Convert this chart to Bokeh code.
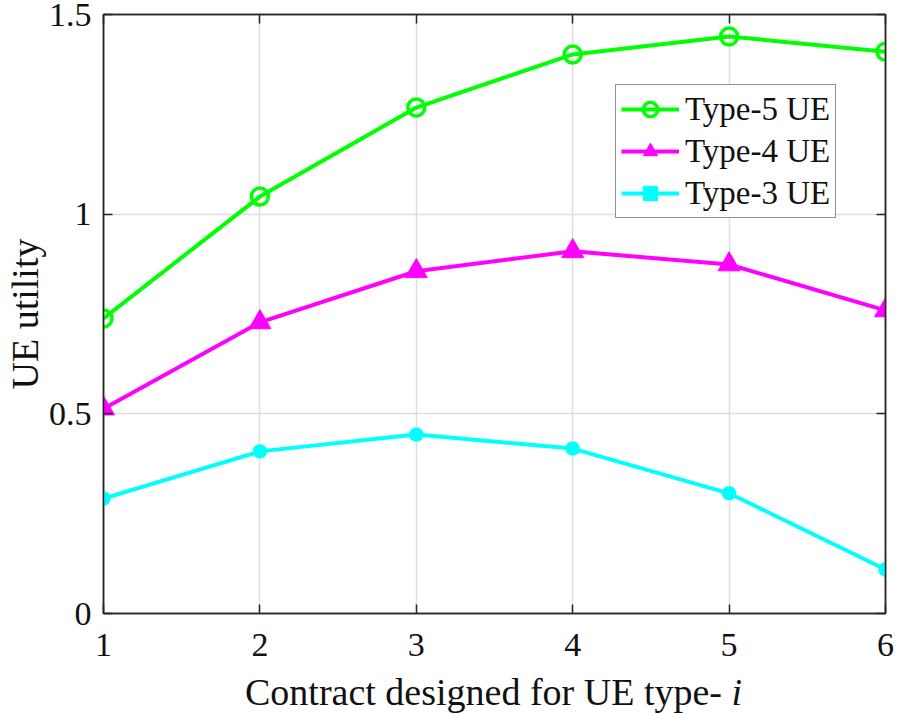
from bokeh.plotting import figure
from bokeh.models import (FixedTicker, NumeralTickFormatter, LinearAxis, Legend,
                          LegendItem, Range1d, Div)
from bokeh.layouts import column
from bokeh.embed import file_html
from bokeh.resources import INLINE

contracts = [1, 2, 3, 4, 5, 6]
type5 = [0.739, 1.044, 1.267, 1.400, 1.445, 1.407]
type4 = [0.513, 0.729, 0.857, 0.907, 0.874, 0.759]
type3 = [0.288, 0.406, 0.448, 0.413, 0.301, 0.110]
x_ticks = [1, 2, 3, 4, 5, 6]
y_ticks = [0, 0.5, 1, 1.5]
x_label = "Contract designed for UE type-"
x_label_var = "i"
y_label = "UE utility"

FONT = "Liberation Serif"
INK = "#262626"

p = figure(width=899, height=672, output_backend="svg", toolbar_location=None,
           x_range=Range1d(1, 6), y_range=Range1d(0, 1.5),
           min_border_left=101, min_border_right=14, min_border_top=14,
           min_border_bottom=59)
p.outline_line_color = INK
p.outline_line_width = 1.5
p.background_fill_color = "white"

for ax in (p.xaxis[0], p.yaxis[0]):
    ax.major_tick_in = 9
    ax.major_tick_out = 0
    ax.minor_tick_line_color = None
    ax.axis_line_color = INK
    ax.axis_line_width = 1.5
    ax.major_tick_line_color = INK
    ax.major_tick_line_width = 1.5
    ax.major_label_text_font = FONT
    ax.major_label_text_font_size = "34px"
    ax.major_label_text_color = "#111111"

p.xaxis.ticker = FixedTicker(ticks=x_ticks)
p.yaxis.ticker = FixedTicker(ticks=y_ticks)
p.yaxis.formatter = NumeralTickFormatter(format="0.[0]")
p.xaxis.major_label_standoff = 20
p.yaxis.major_label_standoff = 12

p.yaxis.axis_label = y_label
p.yaxis.axis_label_text_font = FONT
p.yaxis.axis_label_text_font_style = "normal"
p.yaxis.axis_label_text_font_size = "38px"
p.yaxis.axis_label_text_color = "#111111"
p.yaxis.axis_label_standoff = 0

# right / top axes for box ticks
ra = LinearAxis(ticker=FixedTicker(ticks=y_ticks), major_label_text_font_size="0px",
                major_tick_in=9, major_tick_out=0, minor_tick_line_color=None,
                axis_line_color=INK, major_tick_line_color=INK,
                major_tick_line_width=1.5, axis_line_width=1.5)
ta = LinearAxis(ticker=FixedTicker(ticks=x_ticks), major_label_text_font_size="0px",
                major_tick_in=9, major_tick_out=0, minor_tick_line_color=None,
                axis_line_color=INK, major_tick_line_color=INK,
                major_tick_line_width=1.5, axis_line_width=1.5)
p.add_layout(ra, "right")
p.add_layout(ta, "above")

p.xgrid.grid_line_color = "#dedede"
p.ygrid.grid_line_color = "#dedede"
p.xgrid.grid_line_width = 1.5
p.ygrid.grid_line_width = 1.5

g5l = p.line(contracts, type5, line_color="#00ff00", line_width=4)
g5m = p.scatter(contracts, type5, marker="circle", size=17, line_color="#00ff00",
                fill_color=None, line_width=3.5)
g4l = p.line(contracts, type4, line_color="#ff00ff", line_width=4)
g4m = p.scatter(contracts, type4, marker="triangle", size=22, line_color="#ff00ff",
                fill_color="#ff00ff", line_width=1)
g3l = p.line(contracts, type3, line_color="#00ffff", line_width=4)
g3m = p.scatter(contracts, type3, marker="asterisk", size=14, line_color="#00ffff",
                line_width=5)
g3m2 = p.scatter(contracts, type3, marker="square", size=10, line_color="#00ffff",
                 fill_color="#00ffff", line_width=1)

legend = Legend(items=[
    LegendItem(label="Type-5 UE", renderers=[g5l, g5m]),
    LegendItem(label="Type-4 UE", renderers=[g4l, g4m]),
    LegendItem(label="Type-3 UE", renderers=[g3l, g3m, g3m2]),
], location=(512, 395))
legend.label_text_font = FONT
legend.label_text_font_size = "33px"
legend.label_text_color = "#111111"
legend.border_line_color = INK
legend.border_line_width = 1.5
legend.glyph_width = 58
legend.glyph_height = 36
legend.label_height = 38
legend.spacing = 4
legend.padding = 5
legend.margin = 0
legend.label_standoff = 6
legend.background_fill_alpha = 1
p.add_layout(legend, "center")

xlab = Div(text=f"{x_label} <i>{x_label_var}</i>", width=899, height=41,
           styles={"font-family": FONT, "font-size": "38px", "line-height": "41px",
                   "color": "#111111", "text-indent": "245px", "white-space": "nowrap",
                   "margin": "0", "padding": "0"})

layout = column(p, xlab, spacing=0)

open("out.html", "w").write(file_html(layout, INLINE))
